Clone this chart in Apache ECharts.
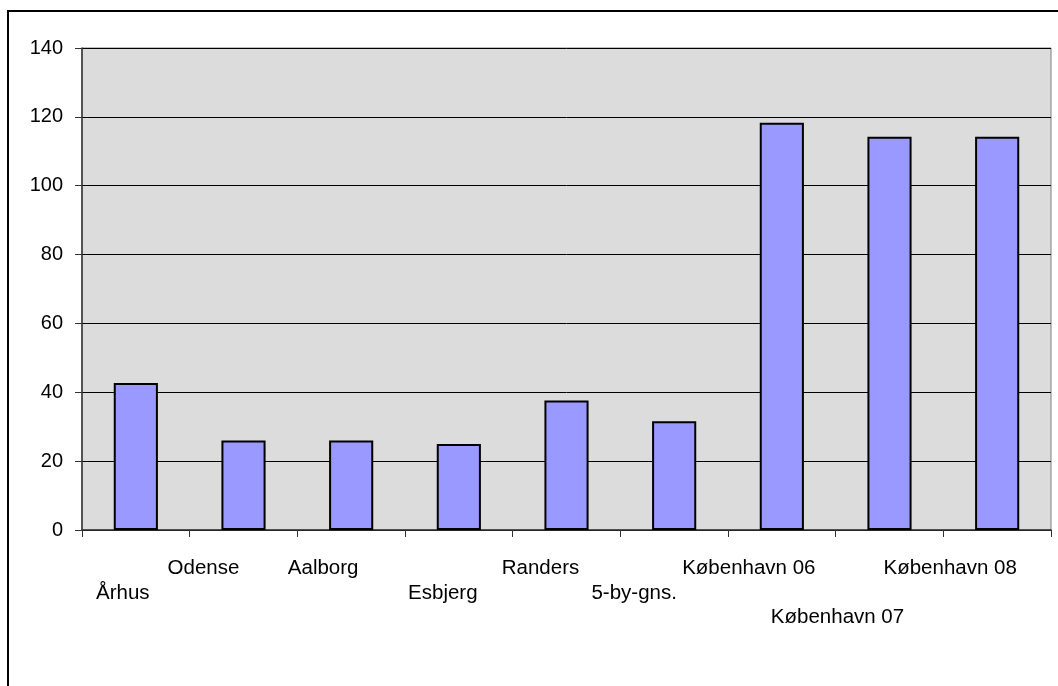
<!DOCTYPE html>
<html><head><meta charset="utf-8">
<script src="https://cdn.jsdelivr.net/npm/echarts@6/dist/echarts.min.js"></script>
<style>html,body{margin:0;padding:0;background:#fff}#c{width:1058px;height:686px}</style>
</head><body><div id="c"></div>
<script>
const categories = ['Århus','Odense','Aalborg','Esbjerg','Randers','5-by-gns.','København 06','København 07','København 08'];
const values = [42.7, 26, 26, 25, 37.6, 31.6, 118.3, 114.2, 114.2];
const yTicks = [0, 20, 40, 60, 80, 100, 120, 140];

// label layout (Excel-style staggering): row index and horizontal shift in px
const labelRow = [1, 0, 0, 1, 0, 1, 0, 2, 0];
const labelShift = [-13, -40, -28, -16, -26, -40, -33, -52, -47];
const rowGap = 24.5;

const rich = {};
categories.forEach((c, i) => {
  const d = labelShift[i];
  rich['l' + i] = {
    fontSize: 20.5, fontFamily: 'Liberation Sans, Arial, sans-serif', color: '#000',
    padding: [labelRow[i] * rowGap, d < 0 ? -2 * d : 0, 0, d > 0 ? 2 * d : 0]
  };
});

const chart = echarts.init(document.getElementById('c'));
chart.setOption({
  animation: false,
  backgroundColor: '#fff',
  textStyle: { fontFamily: 'Liberation Sans, Arial, sans-serif' },
  graphic: [{
    type: 'rect', silent: true, z: -1,
    shape: { x: 8, y: 11, width: 1200, height: 1000 },
    style: { fill: 'none', stroke: '#000', lineWidth: 2 }
  }],
  grid: {
    left: 82, right: 7, top: 48, bottom: 156, show: true,
    backgroundColor: '#dcdcdc', borderColor: '#808080', borderWidth: 1
  },
  xAxis: {
    type: 'category', data: categories,
    axisLine: { lineStyle: { color: '#333', width: 1.5 } },
    axisTick: { show: true, length: 7, alignWithLabel: false, interval: 0, lineStyle: { color: '#333' } },
    axisLabel: {
      interval: 0, margin: 28, color: '#000', fontSize: 20.5,
      formatter: (v, i) => '{l' + i + '|' + v + '}',
      rich: rich
    }
  },
  yAxis: {
    type: 'value', min: yTicks[0], max: yTicks[yTicks.length - 1], interval: 20,
    axisLine: { show: true, lineStyle: { color: '#333', width: 1.5 } },
    axisTick: { show: true, length: 7, lineStyle: { color: '#333' } },
    axisLabel: { margin: 19, color: '#000', fontSize: 20 },
    splitLine: { lineStyle: { color: '#000', width: 1 } }
  },
  series: [{
    type: 'bar', data: values, barWidth: '41%',
    itemStyle: { color: '#9999ff', borderColor: '#000', borderWidth: 2 }
  }]
});
</script></body></html>
